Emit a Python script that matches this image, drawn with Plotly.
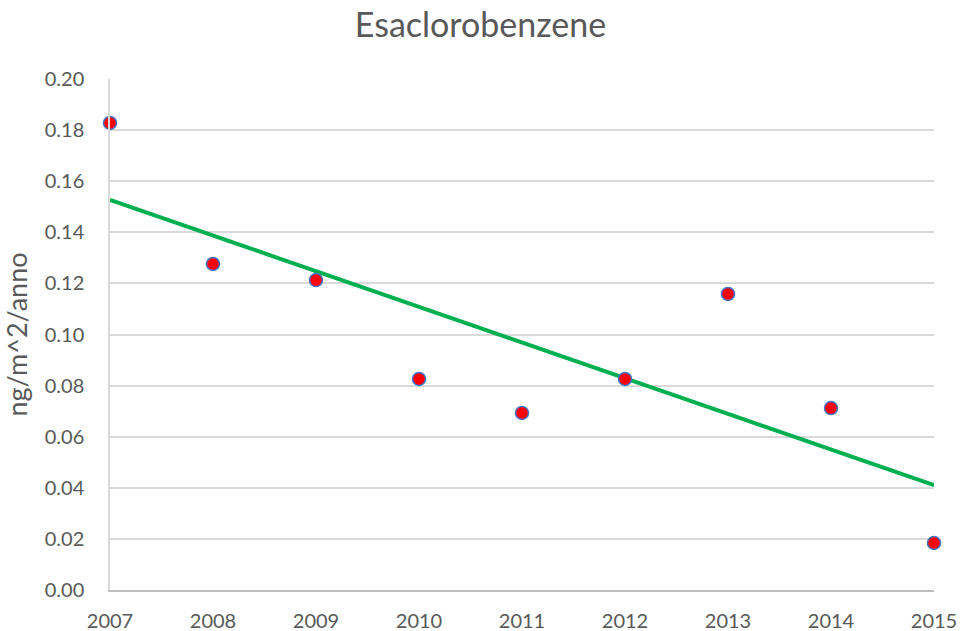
import numpy as np
import plotly.graph_objects as go

years = [2007, 2008, 2009, 2010, 2011, 2012, 2013, 2014, 2015]
values = [0.1828, 0.1276, 0.1213, 0.0826, 0.0693, 0.0826, 0.1159, 0.0712, 0.0184]
y_ticks = [0.00, 0.02, 0.04, 0.06, 0.08, 0.10, 0.12, 0.14, 0.16, 0.18, 0.20]

slope, intercept = np.polyfit(years, values, 1)
trend_x = [years[0], years[-1]]
trend_y = [slope * x + intercept for x in trend_x]

fig = go.Figure()
fig.add_trace(go.Scatter(x=trend_x, y=trend_y, mode="lines",
                         line=dict(color="#00B050", width=4), showlegend=False,
                         hoverinfo="skip"))
fig.add_trace(go.Scatter(x=years, y=values, mode="markers",
                         marker=dict(color="#FF0000", size=13,
                                     line=dict(color="#4472C4", width=1.5)),
                         showlegend=False, cliponaxis=False))

font = "Lato, 'Open Sans', sans-serif"
fig.update_layout(
    width=961, height=631,
    paper_bgcolor="white", plot_bgcolor="white",
    margin=dict(l=110, r=27, t=79, b=41),
    title=dict(text="Esaclorobenzene", x=0.5, xanchor="center", y=0.96, yanchor="middle",
               font=dict(family=font, size=34, color="#595959"), automargin=False),
    font=dict(family=font, color="#595959", size=20),
    xaxis=dict(range=[2007, 2015], tickmode="array", tickvals=years,
               ticktext=[str(y) for y in years], showgrid=False,
               showline=True, linecolor="#BFBFBF", linewidth=1.5, ticks="",
               zeroline=False, ticklabelstandoff=12, automargin=False,
               tickfont=dict(size=20, color="#595959")),
    yaxis=dict(range=[0, 0.20], tickmode="array", tickvals=y_ticks,
               ticktext=[f"{v:.2f}" for v in y_ticks], showgrid=True,
               gridcolor="#D9D9D9", gridwidth=1.5, showline=True, linecolor="#D9D9D9",
               linewidth=1.5, zeroline=False, ticks="", ticklabelstandoff=20,
               automargin=False,
               title=dict(text="ng/m^2/anno", font=dict(size=27, color="#595959"), standoff=10),
               tickfont=dict(size=20, color="#595959")),
)
fig.write_html("out.html", config={"displayModeBar": False},
               post_script="document.body.style.margin='0';")
